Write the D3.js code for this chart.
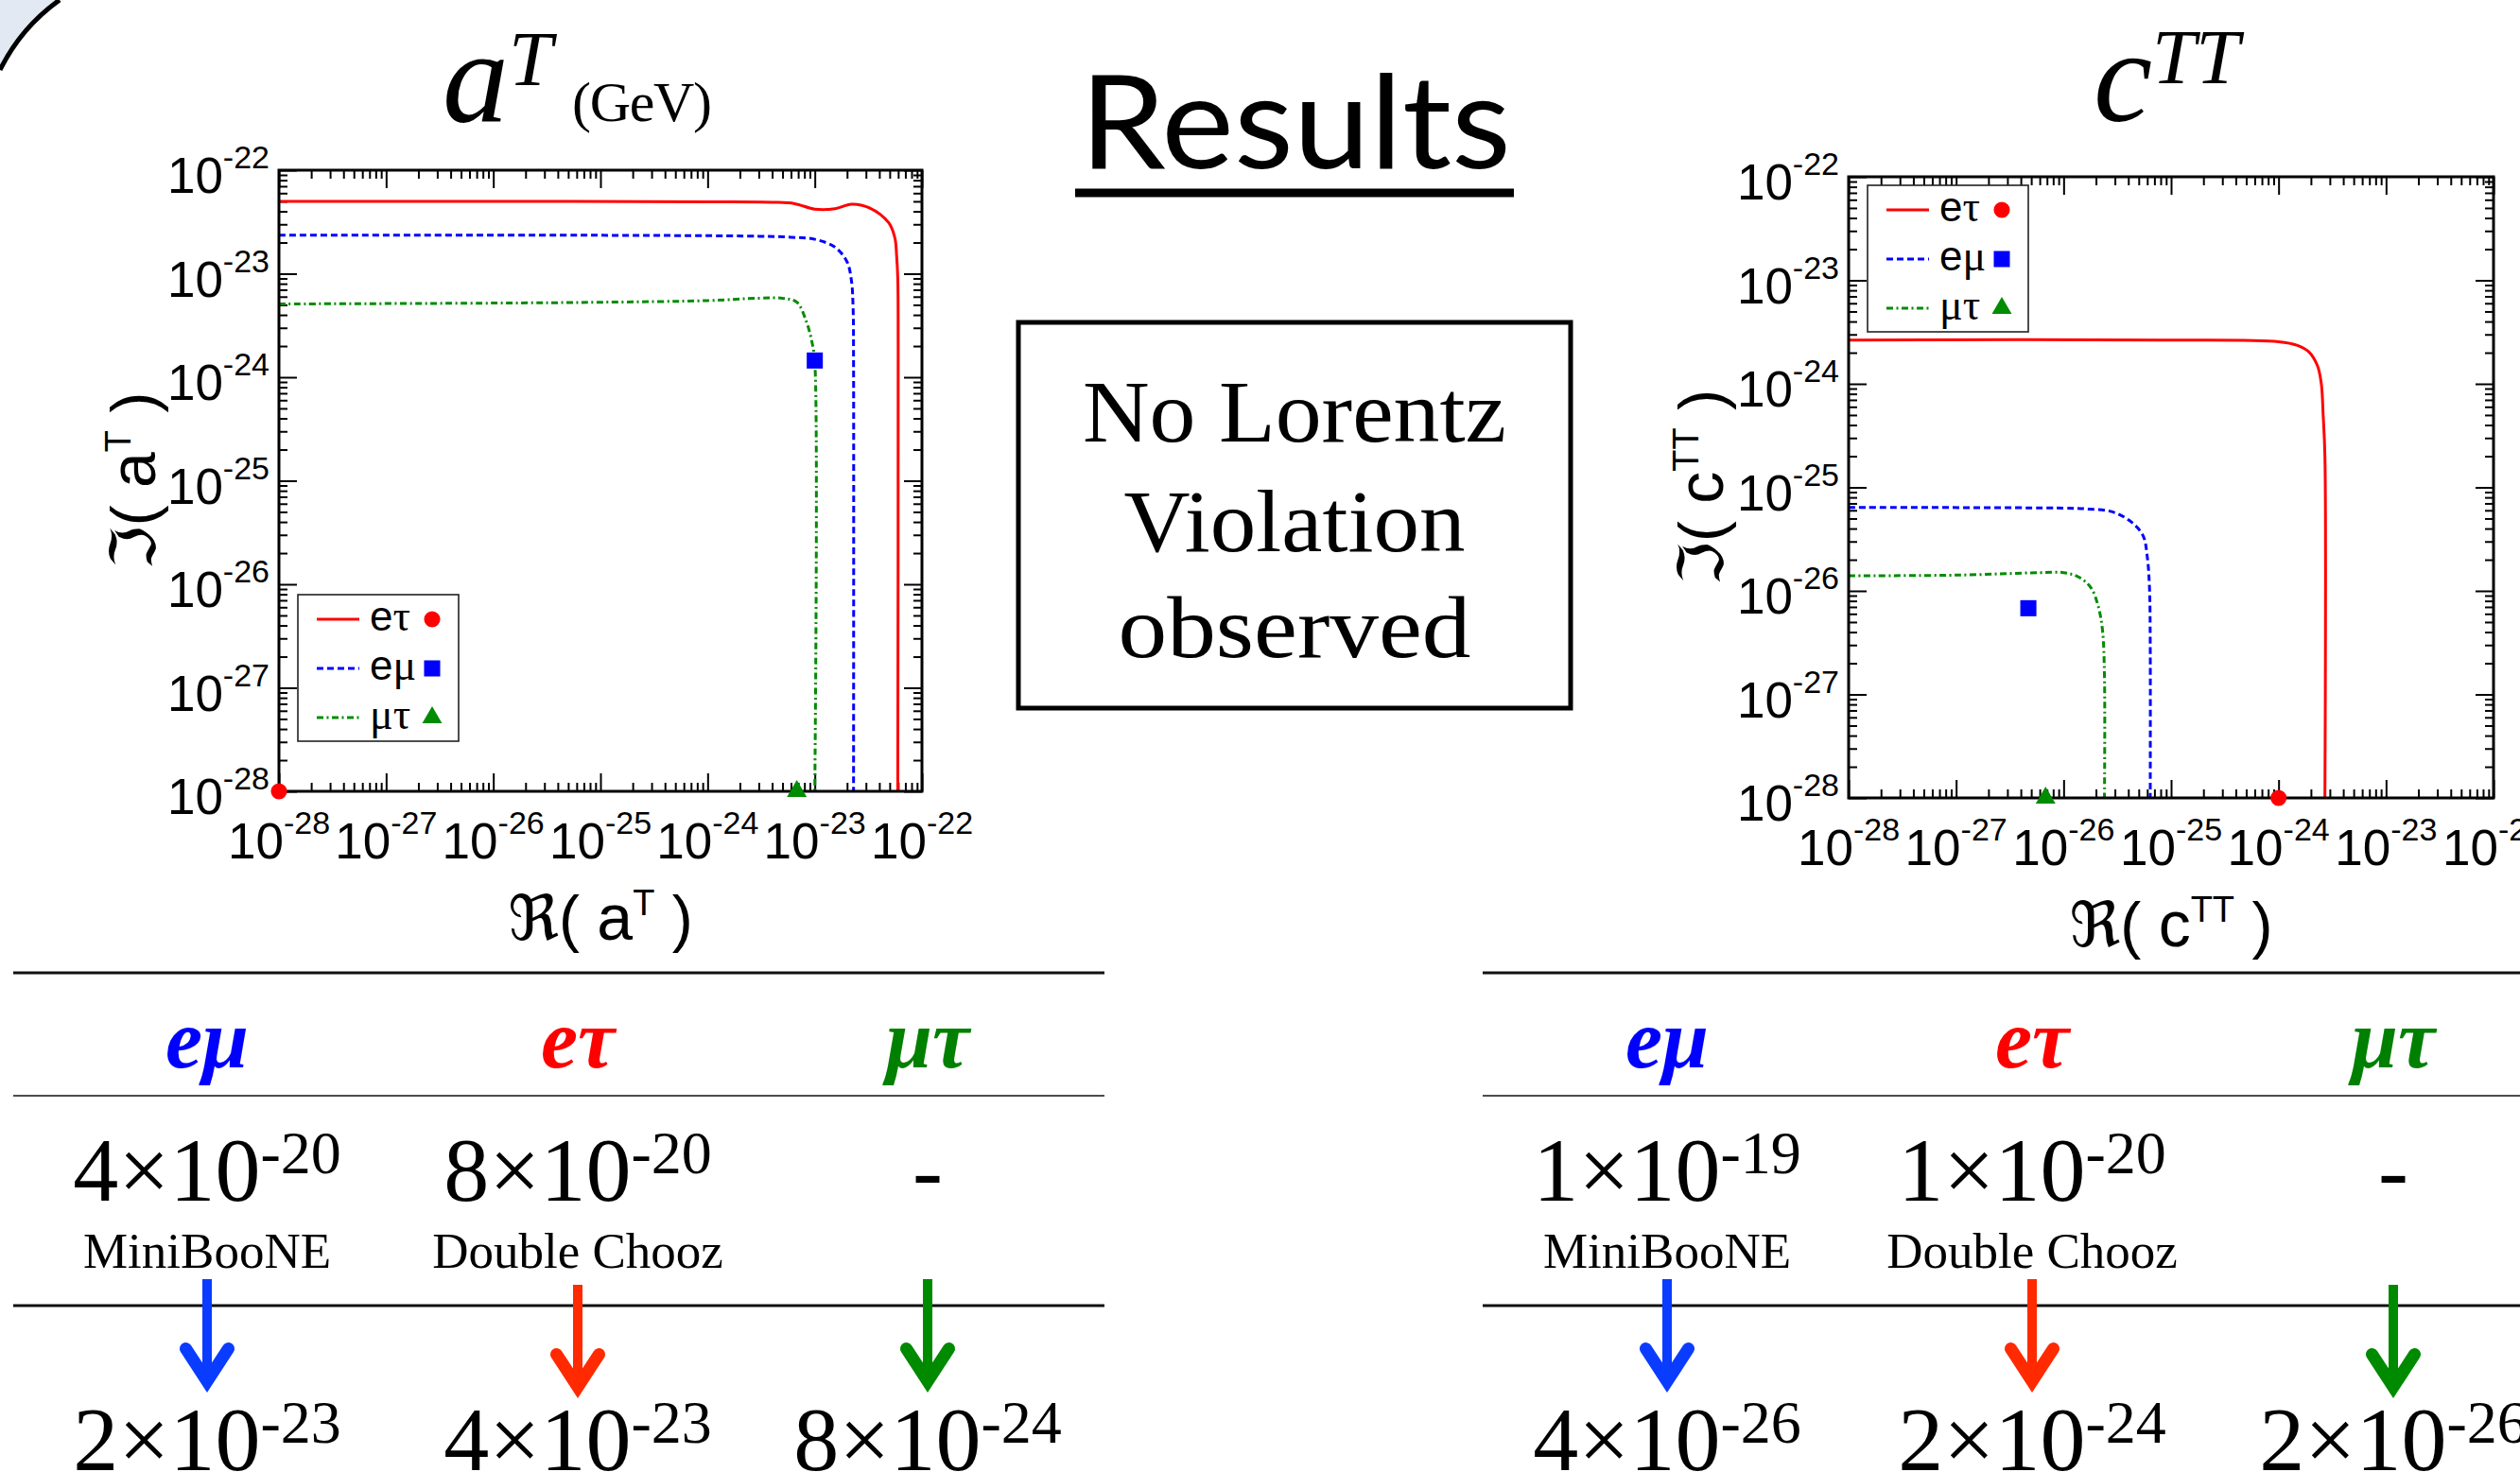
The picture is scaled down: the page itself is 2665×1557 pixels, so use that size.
<!DOCTYPE html>
<html>
<head>
<meta charset="utf-8">
<script src="https://cdn.jsdelivr.net/npm/d3@7"></script>
<style>
  body { margin: 0; background: #fff; }
  svg { display: block; }
</style>
</head>
<body>
<svg id="slide"></svg>
<script>
// ---- data ----
const decades = [1e-28, 1e-27, 1e-26, 1e-25, 1e-24, 1e-23, 1e-22];
const decadeExp = ["-28", "-27", "-26", "-25", "-24", "-23", "-22"];
const channels = ["eτ", "eμ", "μτ"];

// a^T bound contours [Re, Im]
const aT_et = [[1e-28, 5.0e-23], [1e-26, 5.0e-23], [1e-24, 4.95e-23], [4e-24, 4.9e-23], [6.5e-24, 4.75e-23],
  [1.0e-23, 4.2e-23], [1.55e-23, 4.25e-23], [2.2e-23, 4.7e-23], [3.2e-23, 4.35e-23], [4.9e-23, 3.1e-23],
  [5.6e-23, 2.2e-23], [5.8e-23, 1.5e-23], [5.95e-23, 9e-24], [6.0e-23, 2e-24], [5.95e-23, 1e-28]];
const aT_em = [[1e-28, 2.35e-23], [1e-25, 2.35e-23], [3e-24, 2.3e-23], [6e-24, 2.25e-23], [1.0e-23, 2.15e-23],
  [1.55e-23, 1.8e-23], [2.0e-23, 1.3e-23], [2.2e-23, 8.5e-24], [2.28e-23, 4.5e-24], [2.3e-23, 1.5e-24], [2.3e-23, 1e-28]];
const aT_mt = [[1e-28, 5.1e-24], [1e-26, 5.2e-24], [1e-25, 5.3e-24], [1e-24, 5.5e-24], [3e-24, 5.8e-24],
  [5e-24, 5.8e-24], [6.8e-24, 5.3e-24], [8.3e-24, 3.5e-24], [9.4e-24, 2.2e-24], [1.0e-23, 1.4e-24], [1.0e-23, 1e-28]];
const aT_best = [[1e-28, 1e-28], [1.0e-23, 1.45e-24], [6.8e-24, 1e-28]];

// c^TT bound contours [Re, Im]
const cTT_et = [[1e-28, 2.65e-24], [1e-25, 2.65e-24], [1e-24, 2.55e-24], [1.5e-24, 2.35e-24], [1.9e-24, 2.05e-24],
  [2.3e-24, 1.5e-24], [2.5e-24, 1e-24], [2.6e-24, 5e-25], [2.7e-24, 2e-25], [2.7e-24, 1e-28]];
const cTT_em = [[1e-28, 6.4e-26], [1e-26, 6.3e-26], [1.6e-26, 6.2e-26], [2.85e-26, 5.8e-26], [4.3e-26, 4.6e-26],
  [5.5e-26, 3.4e-26], [6.0e-26, 2.15e-26], [6.3e-26, 1.06e-26], [6.4e-26, 3e-27], [6.4e-26, 1e-28]];
const cTT_mt = [[1e-28, 1.4e-26], [1e-27, 1.42e-26], [6e-27, 1.5e-26], [1e-26, 1.5e-26], [1.4e-26, 1.35e-26],
  [1.8e-26, 1.07e-26], [2.1e-26, 7.1e-27], [2.3e-26, 4.2e-27], [2.4e-26, 1.5e-27], [2.4e-26, 1e-28]];
const cTT_best = [[1e-24, 1e-28], [4.7e-27, 6.8e-27], [6.8e-27, 1e-28]];

// table
const tableHeads = ["eμ", "eτ", "μτ"];
const experiments = ["MiniBooNE", "Double Chooz", ""];
const aT_previous = [["4", "-20"], ["8", "-20"], null];
const aT_new = [["2", "-23"], ["4", "-23"], ["8", "-24"]];
const cTT_previous = [["1", "-19"], ["1", "-20"], null];
const cTT_new = [["4", "-26"], ["2", "-24"], ["2", "-26"]];

// ---- styles ----
const SANS = "'Liberation Sans', Arial, sans-serif";
const SERIF = "'Liberation Serif', 'Times New Roman', serif";
const chanColor = {"eτ": "#ff0000", "eμ": "#0000ff", "μτ": "#008c00"};
const chanDash = {"eτ": null, "eμ": "7,4", "μτ": "7,3.5,2,3.5"};
const chanMarker = {"eτ": d3.symbolCircle, "eμ": d3.symbolSquare, "μτ": d3.symbolTriangle};
const headColor = {"eμ": "#0000ff", "eτ": "#ff0000", "μτ": "#008000"};
const arrowColor = {"eμ": "#0a3cff", "eτ": "#ff2a00", "μτ": "#008a00"};

const W = 2665, H = 1557;
const svg = d3.select("#slide").attr("width", W).attr("height", H);
svg.append("rect").attr("width", W).attr("height", H).attr("fill", "#fff");

// corner decoration
svg.append("path").attr("d", "M0,0 L63,0 A200,200 0 0 0 0,74 Z").attr("fill", "#e2e9f3");
svg.append("path").attr("d", "M63,0 A200,200 0 0 0 0,74").attr("fill", "none")
  .attr("stroke", "#000").attr("stroke-width", 5);

const addSup = (text, base, exp, baseSize, supSize, rise) => {
  text.append("tspan").attr("font-size", baseSize).text(base);
  text.append("tspan").attr("font-size", supSize).attr("dy", -rise).text(exp);
};

const drawPlot = ({x0, x1, y0, y1, series, best, legend, symbol, supT, labelX}) => {
  const g = svg.append("g");
  const x = d3.scaleLog().domain([1e-28, 1e-22]).range([x0, x1]);
  const y = d3.scaleLog().domain([1e-28, 1e-22]).range([y1, y0]);

  const minor = [];
  decades.slice(0, -1).forEach((d) => d3.range(2, 10).forEach((k) => minor.push(k * d)));

  const axes = [
    [d3.axisBottom(x), `translate(0,${y1})`],
    [d3.axisTop(x), `translate(0,${y0})`],
    [d3.axisLeft(y), `translate(${x0},0)`],
    [d3.axisRight(y), `translate(${x1},0)`]
  ];
  axes.forEach(([axis, tr]) => {
    [[decades, 19], [minor, 9]].forEach(([vals, len]) => {
      const a = g.append("g").attr("transform", tr)
        .call(axis.tickValues(vals).tickSize(-len).tickFormat(""));
      a.select(".domain").remove();
      a.selectAll("line").attr("stroke", "#000").attr("stroke-width", 2);
    });
  });

  const clipId = "clip" + x0;
  g.append("clipPath").attr("id", clipId).append("rect")
    .attr("x", x0).attr("y", y0).attr("width", x1 - x0).attr("height", y1 - y0);

  const line = d3.line().x((d) => x(d[0])).y((d) => y(d[1])).curve(d3.curveCatmullRom.alpha(0.5));
  series.forEach((pts, i) => {
    const c = channels[i];
    g.append("path").attr("clip-path", `url(#${clipId})`)
      .attr("d", line(pts)).attr("fill", "none")
      .attr("stroke", chanColor[c]).attr("stroke-width", 3)
      .attr("stroke-dasharray", chanDash[c]);
  });

  g.append("rect").attr("x", x0).attr("y", y0).attr("width", x1 - x0).attr("height", y1 - y0)
    .attr("fill", "none").attr("stroke", "#000").attr("stroke-width", 3);

  const markerSize = {"eτ": 230, "eμ": 290, "μτ": 190};
  best.forEach((p, i) => {
    const c = channels[i];
    g.append("path").attr("d", d3.symbol(chanMarker[c], markerSize[c])())
      .attr("transform", `translate(${x(p[0])},${y(p[1])})`).attr("fill", chanColor[c]);
  });

  // tick labels
  decades.forEach((d, i) => {
    const tx = g.append("text").attr("x", x(d)).attr("y", y1 + 71)
      .attr("text-anchor", "middle").attr("font-family", SANS);
    addSup(tx, "10", decadeExp[i], 53, 34, 26);
    const ty = g.append("text").attr("x", x0 - 10).attr("y", y(d) + 24)
      .attr("text-anchor", "end").attr("font-family", SANS);
    addSup(ty, "10", decadeExp[i], 53, 34, 26);
  });

  // legend
  const lg = g.append("g").attr("transform", `translate(${legend[0]},${legend[1]})`);
  lg.append("rect").attr("width", 170).attr("height", 155).attr("fill", "#fff")
    .attr("stroke", "#222").attr("stroke-width", 1.6);
  channels.forEach((c, i) => {
    const ry = 26 + i * 52;
    lg.append("line").attr("x1", 20).attr("x2", 65).attr("y1", ry).attr("y2", ry)
      .attr("stroke", chanColor[c]).attr("stroke-width", 3).attr("stroke-dasharray", chanDash[c]);
    const t = lg.append("text").attr("x", 76).attr("y", ry + 12);
    c.split("").forEach((ch) => {
      t.append("tspan").text(ch)
        .attr("font-family", ch === "e" ? SANS : SERIF).attr("font-size", ch === "e" ? 44 : 46);
    });
    lg.append("path").attr("d", d3.symbol(chanMarker[c], markerSize[c])())
      .attr("transform", `translate(142,${ry})`).attr("fill", chanColor[c]);
  });

  // axis titles
  const axisTitle = (t, fr) => {
    t.append("tspan").attr("font-family", "'DejaVu Sans', sans-serif").attr("font-size", 66).text(fr);
    t.append("tspan").attr("font-family", SANS).attr("font-size", 66).attr("font-weight", 300).text("( ");
    t.append("tspan").attr("font-family", SANS).attr("font-size", 68).text(symbol);
    t.append("tspan").attr("font-family", SANS).attr("font-size", 38).attr("dy", -26).text(supT);
    t.append("tspan").attr("font-family", SANS).attr("font-size", 66).attr("dy", 26).text(" )");
  };
  axisTitle(g.append("text").attr("x", (x0 + x1) / 2).attr("y", y1 + 157).attr("text-anchor", "middle"), "ℜ");
  axisTitle(g.append("text").attr("text-anchor", "middle")
    .attr("transform", `translate(${labelX},${(y0 + y1) / 2}) rotate(-90)`), "ℑ");
};

drawPlot({x0: 295, x1: 975, y0: 180, y1: 837, series: [aT_et, aT_em, aT_mt], best: aT_best,
  legend: [315, 629], symbol: "a", supT: "T", labelX: 164});
drawPlot({x0: 1955, x1: 2637, y0: 187, y1: 844, series: [cTT_et, cTT_em, cTT_mt], best: cTT_best,
  legend: [1975, 196], symbol: "c", supT: "TT", labelX: 1822});

// plot titles
const t1 = svg.append("text").attr("font-family", SERIF);
t1.append("tspan").attr("x", 468).attr("y", 129).attr("font-size", 140).attr("font-style", "italic").text("a");
t1.append("tspan").attr("x", 538).attr("y", 90).attr("font-size", 83).attr("font-style", "italic").text("T");
t1.append("tspan").attr("x", 605).attr("y", 128).attr("font-size", 60).attr("textLength", 148).text("(GeV)");
const t2 = svg.append("text").attr("font-family", SERIF).attr("font-style", "italic");
t2.append("tspan").attr("x", 2214).attr("y", 128).attr("font-size", 140).text("c");
t2.append("tspan").attr("x", 2276).attr("y", 88).attr("font-size", 83).text("TT");

// Results heading
svg.append("text").attr("x", 1370).attr("y", 178).attr("text-anchor", "middle")
  .attr("font-family", "Lato, 'Open Sans', sans-serif").attr("font-size", 137)
  .attr("textLength", 456).attr("lengthAdjust", "spacingAndGlyphs").text("Results");
svg.append("rect").attr("x", 1137).attr("y", 199.5).attr("width", 464).attr("height", 9).attr("fill", "#000");

// conclusion box
svg.append("rect").attr("x", 1077).attr("y", 341).attr("width", 584).attr("height", 408)
  .attr("fill", "none").attr("stroke", "#000").attr("stroke-width", 5);
[["No Lorentz", 467, 448], ["Violation", 583, 361], ["observed", 695, 373]].forEach(([s, by, len]) => {
  svg.append("text").attr("x", 1369).attr("y", by).attr("text-anchor", "middle")
    .attr("font-family", SERIF).attr("font-size", 93)
    .attr("textLength", len).attr("lengthAdjust", "spacingAndGlyphs").text(s);
});

// tables
const drawArrow = (cx, yTop, yTip, color) => {
  svg.append("rect").attr("x", cx - 5).attr("y", yTop).attr("width", 10).attr("height", yTip - yTop - 24)
    .attr("fill", color);
  svg.append("path").attr("fill", color).attr("d",
    `M${cx},${yTip} L${cx - 28},${yTip - 43} A6,6 0 0 1 ${cx - 17},${yTip - 50} L${cx},${yTip - 24}` +
    ` L${cx + 17},${yTip - 50} A6,6 0 0 1 ${cx + 28},${yTip - 43} Z`);
};

const drawTable = (xl, xr, cols, previous, latest, arrowTops) => {
  [[1029, 3], [1159, 1.6], [1381, 3]].forEach(([ly, sw]) => {
    svg.append("line").attr("x1", xl).attr("x2", xr).attr("y1", ly).attr("y2", ly)
      .attr("stroke", "#111").attr("stroke-width", sw);
  });
  tableHeads.forEach((h, i) => {
    const cx = cols[i];
    svg.append("text").attr("x", cx).attr("y", 1129).attr("text-anchor", "middle")
      .attr("font-family", SERIF).attr("font-weight", "bold").attr("font-style", "italic")
      .attr("font-size", 88).attr("fill", headColor[h]).text(h);
    const p = previous[i];
    const tp = svg.append("text").attr("x", cx).attr("y", 1270).attr("text-anchor", "middle")
      .attr("font-family", SERIF);
    if (p) addSup(tp, `${p[0]}×10`, p[1], 96, 64, 29);
    else tp.attr("font-size", 96).text("-");
    svg.append("text").attr("x", cx).attr("y", 1341).attr("text-anchor", "middle")
      .attr("font-family", SERIF).attr("font-size", 53).text(experiments[i]);
    drawArrow(cx, arrowTops[i], arrowTops[i] + 120, arrowColor[h]);
    const tn = svg.append("text").attr("x", cx).attr("y", 1555).attr("text-anchor", "middle")
      .attr("font-family", SERIF);
    addSup(tn, `${latest[i][0]}×10`, latest[i][1], 96, 64, 29);
  });
};

drawTable(14, 1168, [219, 611, 981], aT_previous, aT_new, [1353, 1359, 1353]);
drawTable(1568, 2665, [1763, 2149, 2531], cTT_previous, cTT_new, [1353, 1353, 1359]);
</script>
</body>
</html>
